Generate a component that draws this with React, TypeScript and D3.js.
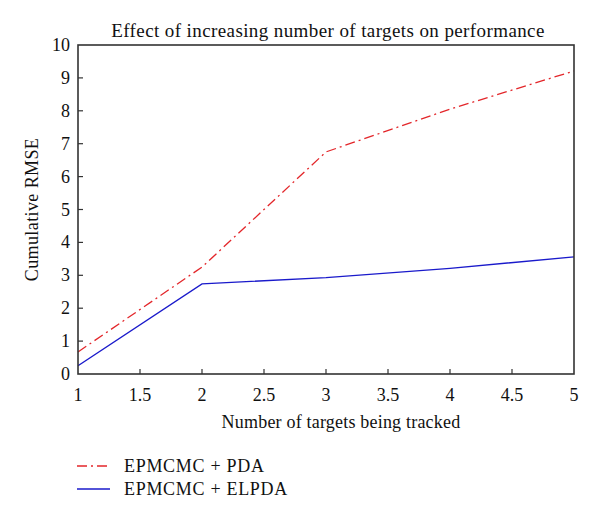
import React from "react";
import * as d3 from "d3";

const targets = [1, 2, 3, 4, 5];
const pdaRmse = [0.67, 3.25, 6.75, 8.05, 9.21];
const elpdaRmse = [0.25, 2.74, 2.93, 3.21, 3.56];
const xTicks = [1, 1.5, 2, 2.5, 3, 3.5, 4, 4.5, 5];
const yTicks = [0, 1, 2, 3, 4, 5, 6, 7, 8, 9, 10];
const seriesNames = ["EPMCMC + PDA", "EPMCMC + ELPDA"];

const W = 600;
const H = 522;
const left = 78, right = 574, top = 45, bottom = 374;
const font = "'Liberation Serif', 'DejaVu Serif', serif";

export default function App() {
  const x = d3.scaleLinear().domain([1, 5]).range([left, right]);
  const y = d3.scaleLinear().domain([0, 10]).range([bottom, top]);

  const line = d3
    .line<number>()
    .x((_, i) => x(targets[i]))
    .y((d) => y(d));

  const red = "#e3262a";
  const blue = "#1a1acb";
  const dashDot = "10,4,2,4";

  return (
    <svg
      width={W}
      height={H}
      style={{ position: "absolute", left: 0, top: 0, background: "#fff" }}
      fontFamily={font}
    >
      {/* title */}
      <text x={328} y={37} textAnchor="middle" fontSize={19} letterSpacing={0.4} fill="#111">
        Effect of increasing number of targets on performance
      </text>

      {/* series */}
      <path d={line(pdaRmse) || ""} fill="none" stroke={red} strokeWidth={1.3} strokeDasharray={dashDot} />
      <path d={line(elpdaRmse) || ""} fill="none" stroke={blue} strokeWidth={1.4} />

      {/* frame */}
      <rect x={left} y={top} width={right - left} height={bottom - top} fill="none" stroke="#333" strokeWidth={1.6} />

      {/* y ticks */}
      {yTicks.map((t) => (
        <g key={"y" + t}>
          {t > 0 && t < 10 && <line x1={left} x2={left + 5} y1={y(t)} y2={y(t)} stroke="#333" strokeWidth={1.2} />}
          <text x={left - 8} y={y(t) + 6} textAnchor="end" fontSize={18} fill="#111">
            {t}
          </text>
        </g>
      ))}

      {/* x ticks */}
      {xTicks.map((t) => (
        <g key={"x" + t}>
          {t > 1 && t < 5 && <line x1={x(t)} x2={x(t)} y1={bottom} y2={bottom - 5} stroke="#333" strokeWidth={1.2} />}
          <text x={x(t)} y={bottom + 27} textAnchor="middle" fontSize={18} fill="#111">
            {t}
          </text>
        </g>
      ))}

      {/* axis labels */}
      <text x={341} y={428} textAnchor="middle" fontSize={18} letterSpacing={0.2} fill="#111">
        Number of targets being tracked
      </text>
      <text transform={`translate(38,${(top + bottom) / 2}) rotate(-90)`} textAnchor="middle" fontSize={18} letterSpacing={0.4} fill="#111">
        Cumulative RMSE
      </text>

      {/* legend */}
      <line x1={77} x2={110} y1={466} y2={466} stroke={red} strokeWidth={1.3} strokeDasharray={dashDot} />
      <text x={124} y={472} fontSize={18} letterSpacing={0.7} fill="#111">{seriesNames[0]}</text>
      <line x1={77} x2={110} y1={489} y2={489} stroke={blue} strokeWidth={1.4} />
      <text x={124} y={495} fontSize={18} letterSpacing={0.7} fill="#111">{seriesNames[1]}</text>
    </svg>
  );
}
